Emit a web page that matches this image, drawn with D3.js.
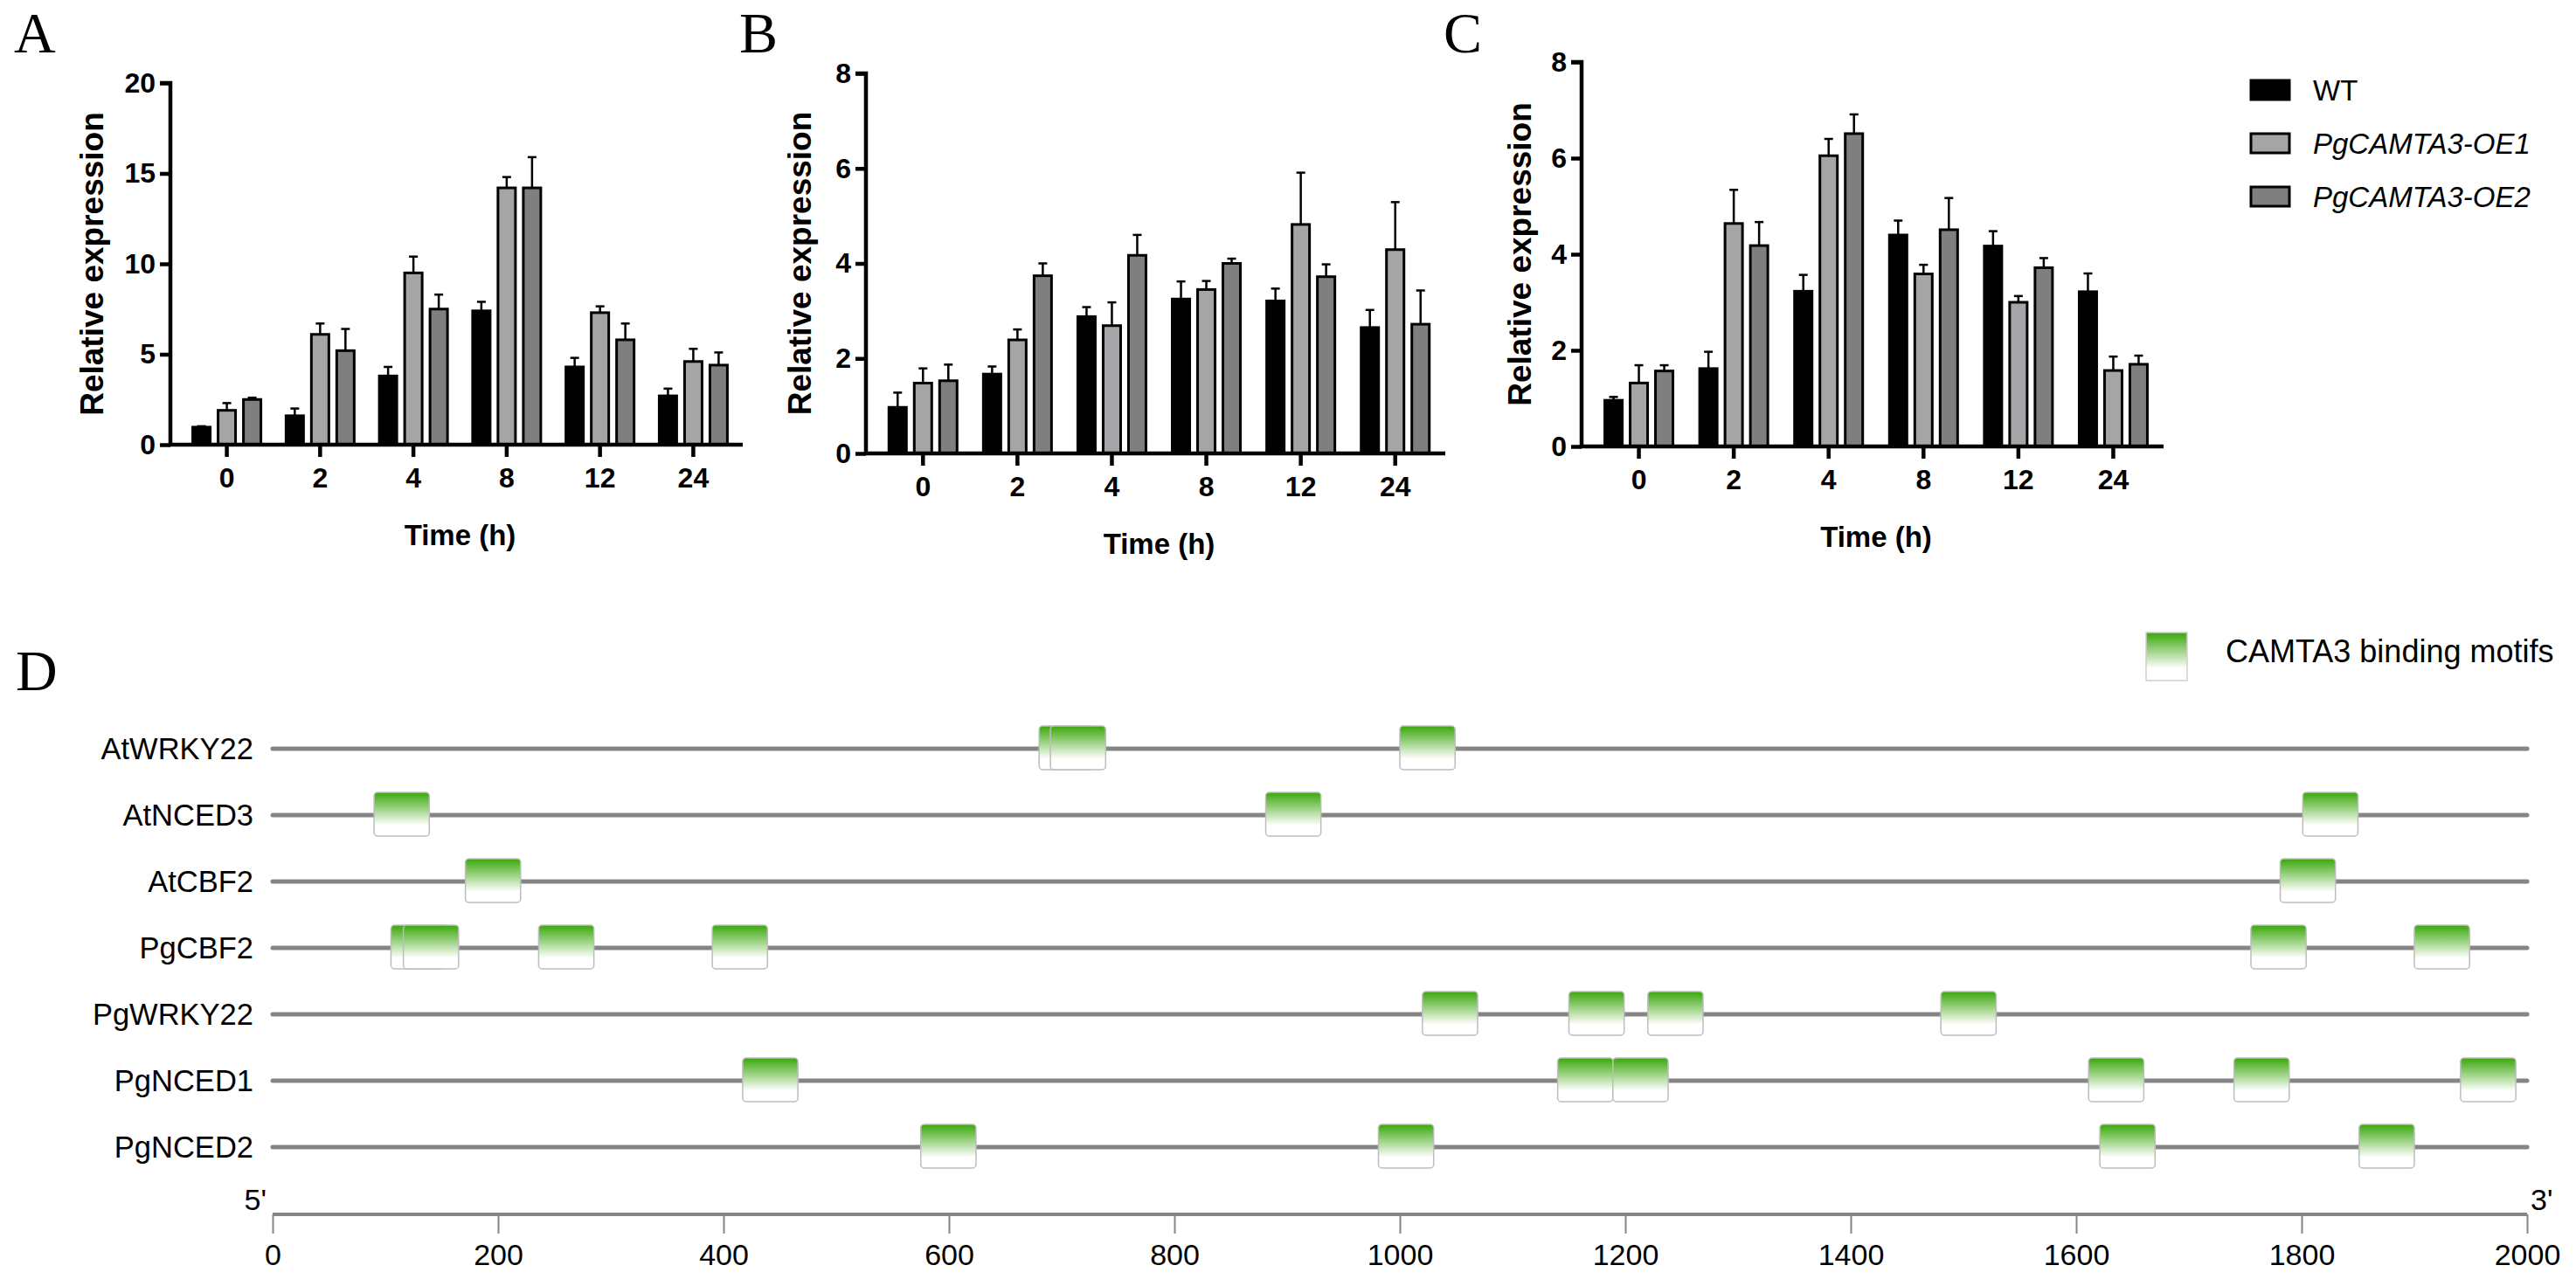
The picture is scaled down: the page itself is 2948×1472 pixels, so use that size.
<!DOCTYPE html>
<html>
<head>
<meta charset="utf-8">
<script src="https://cdn.jsdelivr.net/npm/d3@7"></script>
<style>
  body { margin: 0; background: #fff; }
  svg { display: block; }
</style>
</head>
<body>
<script>
// qRT-PCR time course, three genotypes per time point
const times = ['0', '2', '4', '8', '12', '24'];
const series = ['WT', 'PgCAMTA3-OE1', 'PgCAMTA3-OE2'];

const aMean = [
  [0.97, 1.6, 3.8, 7.4, 4.3, 2.7],
  [1.9, 6.1, 9.5, 14.2, 7.3, 4.6],
  [2.5, 5.2, 7.5, 14.2, 5.8, 4.4],
];
const aErr = [
  [1.02, 2.0, 4.3, 7.9, 4.8, 3.1],
  [2.3, 6.7, 10.4, 14.8, 7.65, 5.3],
  [2.6, 6.4, 8.3, 15.9, 6.7, 5.1],
];
const bMean = [
  [0.97, 1.67, 2.88, 3.25, 3.21, 2.65],
  [1.48, 2.39, 2.69, 3.45, 4.82, 4.29],
  [1.53, 3.74, 4.17, 4.0, 3.72, 2.72],
];
const bErr = [
  [1.28, 1.83, 3.08, 3.62, 3.47, 3.02],
  [1.79, 2.61, 3.18, 3.63, 5.91, 5.29],
  [1.87, 4.0, 4.6, 4.1, 3.98, 3.43],
];
const cMean = [
  [0.96, 1.62, 3.23, 4.4, 4.17, 3.22],
  [1.32, 4.64, 6.05, 3.59, 3.0, 1.58],
  [1.57, 4.18, 6.51, 4.51, 3.72, 1.71],
];
const cErr = [
  [1.03, 1.97, 3.57, 4.7, 4.48, 3.6],
  [1.69, 5.34, 6.4, 3.78, 3.13, 1.87],
  [1.69, 4.67, 6.91, 5.17, 3.92, 1.89],
];
const yTicksA = [0, 5, 10, 15, 20];
const yTicksBC = [0, 2, 4, 6, 8];

// promoter motif map (start position in bp)
const genes = ['AtWRKY22', 'AtNCED3', 'AtCBF2', 'PgCBF2', 'PgWRKY22', 'PgNCED1', 'PgNCED2'];
const motifs = [
  [680, 690, 1000],
  [90, 881, 1801],
  [171, 1781],
  [105, 116, 236, 390, 1755, 1900],
  [1020, 1150, 1220, 1480],
  [417, 1140, 1189, 1611, 1740, 1941],
  [575, 981, 1621, 1851],
];
const motifLen = 49;
const bpTicks = [0, 200, 400, 600, 800, 1000, 1200, 1400, 1600, 1800, 2000];

const colours = ['#000000', '#a5a5a8', '#7f7f7f'];
const W = 2948, H = 1472;
const sans = 'Liberation Sans, Arial, sans-serif';

const svg = d3.select('body').append('svg')
  .attr('width', W)
  .attr('height', H);

const defs = svg.append('defs');
const grad = defs.append('linearGradient')
  .attr('id', 'motifFill')
  .attr('x1', 0).attr('y1', 0).attr('x2', 0).attr('y2', 1);
grad.append('stop').attr('offset', '0%').attr('stop-color', '#3aa70a');
grad.append('stop').attr('offset', '75%').attr('stop-color', '#ffffff');
grad.append('stop').attr('offset', '100%').attr('stop-color', '#ffffff');

function drawPanel (p) {
  const g = svg.append('g');
  const x = d3.scaleBand().domain(times).range([p.x0, p.x1]).paddingInner(0).paddingOuter(0.03);
  const y = d3.scaleLinear().domain([0, p.max]).range([p.yb, p.yt]);
  const bw = 20, step = 29;

  series.forEach((s, si) => {
    const off = (si - 1) * step;
    const grp = g.append('g');
    grp.selectAll('line.err')
      .data(times)
      .enter()
        .append('g')
        .each(function (t, i) {
          const cx = x(t) + x.bandwidth() / 2 + off;
          const e = d3.select(this);
          e.append('line')
            .attr('x1', cx).attr('x2', cx)
            .attr('y1', y(p.mean[si][i])).attr('y2', y(p.err[si][i]))
            .attr('stroke', '#000').attr('stroke-width', 2.5);
          e.append('line')
            .attr('x1', cx - 5).attr('x2', cx + 5)
            .attr('y1', y(p.err[si][i])).attr('y2', y(p.err[si][i]))
            .attr('stroke', '#000').attr('stroke-width', 2.5);
        });
    grp.selectAll('rect')
      .data(times)
      .enter()
        .append('rect')
        .attr('x', t => x(t) + x.bandwidth() / 2 + off - bw / 2)
        .attr('y', (t, i) => y(p.mean[si][i]))
        .attr('width', bw)
        .attr('height', (t, i) => y(0) - y(p.mean[si][i]))
        .attr('fill', colours[si])
        .attr('stroke', '#000')
        .attr('stroke-width', 3);
  });

  const yAxis = g.append('g')
    .attr('transform', `translate(${p.x0 - 8},0)`)
    .call(d3.axisLeft(y).tickValues(p.ticks).tickSize(12).tickPadding(5));
  const xAxis = g.append('g')
    .attr('transform', `translate(0,${p.yb})`)
    .call(d3.axisBottom(x).tickSize(14).tickPadding(12));
  [yAxis, xAxis].forEach(a => {
    a.select('.domain').attr('stroke-width', 4.5);
    a.selectAll('.tick line').attr('stroke-width', 4.5);
    a.selectAll('text')
      .attr('font-family', sans).attr('font-weight', 'bold').attr('font-size', 32);
  });
  yAxis.select('.domain').attr('d', `M-12,${p.yt}H0V${p.yb}`);
  xAxis.select('.domain').attr('d', `M${p.x0 - 10},0H${p.x1}`);

  g.append('text')
    .attr('transform', `translate(${p.yl},${(p.yt + p.yb) / 2}) rotate(-90)`)
    .attr('text-anchor', 'middle')
    .attr('font-family', sans).attr('font-weight', 'bold').attr('font-size', 37)
    .text('Relative expression');
  g.append('text')
    .attr('x', (p.x0 + p.x1) / 2).attr('y', p.yb + 115)
    .attr('text-anchor', 'middle')
    .attr('font-family', sans).attr('font-weight', 'bold').attr('font-size', 33)
    .text('Time (h)');
  g.append('text')
    .attr('x', p.lx).attr('y', 60)
    .attr('font-family', 'Liberation Serif, Times New Roman, serif').attr('font-size', 66)
    .text(p.label);
}

drawPanel({ label: 'A', lx: 16, x0: 203, x1: 850, yt: 95, yb: 509, max: 20, ticks: yTicksA, mean: aMean, err: aErr, yl: 118 });
drawPanel({ label: 'B', lx: 846, x0: 999, x1: 1654, yt: 84, yb: 519, max: 8, ticks: yTicksBC, mean: bMean, err: bErr, yl: 928 });
drawPanel({ label: 'C', lx: 1652, x0: 1818, x1: 2476, yt: 71, yb: 511, max: 8, ticks: yTicksBC, mean: cMean, err: cErr, yl: 1752 });

// legend for A-C
const leg = svg.append('g');
series.forEach((s, i) => {
  const yy = 92 + i * 61;
  leg.append('rect')
    .attr('x', 2576).attr('y', yy).attr('width', 44).attr('height', 22)
    .attr('fill', colours[i]).attr('stroke', '#000').attr('stroke-width', 3);
  leg.append('text')
    .attr('x', 2647).attr('y', yy + 23)
    .attr('font-family', sans).attr('font-size', 33)
    .attr('font-style', i === 0 ? 'normal' : 'italic')
    .text(s);
});

// panel D
const bx = d3.scaleLinear().domain([0, 2000]).range([312, 2892]);
const gy = d3.scalePoint().domain(genes).range([857, 1313]);
const gD = svg.append('g');

gD.append('text')
  .attr('x', 18).attr('y', 790)
  .attr('font-family', 'Liberation Serif, Times New Roman, serif').attr('font-size', 66)
  .text('D');

genes.forEach((gene, gi) => {
  const cy = gy(gene);
  gD.append('line')
    .attr('x1', bx(0)).attr('x2', bx(2000))
    .attr('y1', cy).attr('y2', cy)
    .attr('stroke', '#858585').attr('stroke-width', 5).attr('stroke-linecap', 'round');
  gD.append('text')
    .attr('x', 290).attr('y', cy + 12)
    .attr('text-anchor', 'end')
    .attr('font-family', sans).attr('font-size', 34.5)
    .text(gene);
  gD.selectAll(null)
    .data(motifs[gi])
    .enter()
      .append('rect')
      .attr('x', d => bx(d))
      .attr('y', cy - 26)
      .attr('width', bx(motifLen) - bx(0))
      .attr('height', 50)
      .attr('rx', 4)
      .attr('fill', 'url(#motifFill)')
      .attr('stroke', '#bdbdbd')
      .attr('stroke-width', 1.5);
});

const axD = gD.append('g')
  .attr('transform', 'translate(0,1390)')
  .call(d3.axisBottom(bx).tickValues(bpTicks).tickSize(22).tickPadding(12).tickFormat(d3.format('d')));
axD.select('.domain').attr('stroke', '#858585').attr('stroke-width', 4).attr('d', `M${bx(0)},0H${bx(2000)}`);
axD.selectAll('.tick line').attr('stroke', '#858585').attr('stroke-width', 2);
axD.selectAll('text').attr('font-family', sans).attr('font-size', 34).attr('fill', '#000');

gD.append('text').attr('x', 305).attr('y', 1385).attr('text-anchor', 'end')
  .attr('font-family', sans).attr('font-size', 34).text("5'");
gD.append('text').attr('x', 2896).attr('y', 1385)
  .attr('font-family', sans).attr('font-size', 34).text("3'");

// legend for D
gD.append('rect')
  .attr('x', 2456).attr('y', 724).attr('width', 47).attr('height', 55)
  .attr('fill', 'url(#motifFill)').attr('stroke', '#cfcfcf').attr('stroke-width', 1.5);
gD.append('text')
  .attr('x', 2547).attr('y', 758)
  .attr('font-family', sans).attr('font-size', 36)
  .text('CAMTA3 binding motifs');
</script>
</body>
</html>
